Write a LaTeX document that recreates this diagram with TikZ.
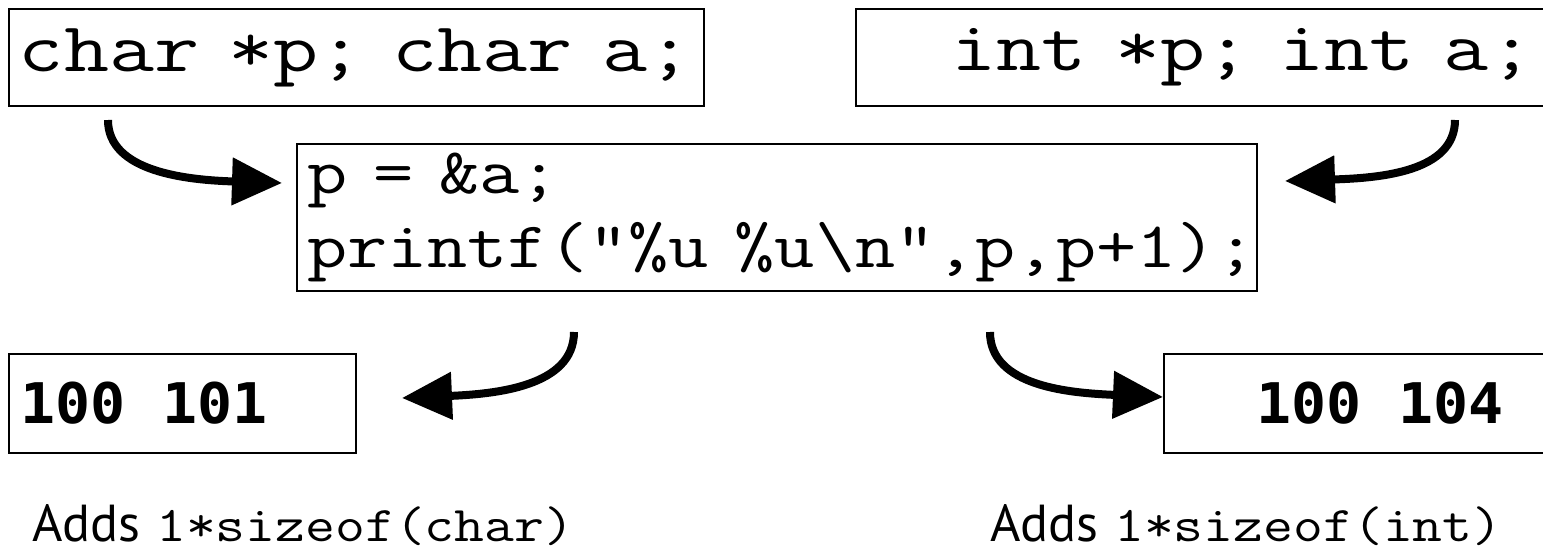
\documentclass[tikz,border=0pt]{standalone}
\usepackage{fontspec}
\usepackage{graphicx}
\usetikzlibrary{arrows.meta,calc}
\newfontfamily\codefont{Latin Modern Mono}
\newfontfamily\numfont{DejaVu Sans Mono}
\newfontfamily\notefont{PT Sans}
% widen a line of monospaced text to Courier-like proportions
\newcommand\stretchx[2][1.2]{\scalebox{#1}[1]{#2}}

\begin{document}
\begin{tikzpicture}[x=1pt,y=-1pt,
  frame/.style={draw, line width=2pt, anchor=north west, inner ysep=0pt, align=left},
  decl/.style={frame, font=\codefont\fontsize{70}{84}\selectfont, minimum height=97pt},
  result/.style={frame, font=\numfont\bfseries\fontsize{56}{67}\selectfont, minimum height=99pt},
  note/.style={anchor=base west, inner sep=0pt, font=\fontsize{52}{60}\selectfont},
  link/.style={line width=8pt, -{Triangle[length=50pt,width=46pt]}},
]
\useasboundingbox (0,0) rectangle (1543,554);

% declarations
\node[decl, inner xsep=10pt, text width=675pt] (chardecl) at (8,8) {\stretchx[1.25]{char *p; char a;}};
\node[decl, inner xsep=95pt, text width=620pt] (intdecl) at (855,8) {\stretchx[1.25]{int *p; int a;}};

% shared code
\node[frame, font=\codefont\fontsize{65}{74}\selectfont, inner xsep=10pt,
      text width=940pt, minimum height=147pt] (code) at (296,143)
  {\stretchx{p = \&a;}\\\stretchx{printf(“\%u \%u\textbackslash n”,p,p+1);}};

% printed output (a full digit cell between the two values)
\node[result, inner xsep=11pt, text width=325pt] (charout) at (8,353) {\stretchx[1.04]{100\hspace{0.3em} 101}};
\node[result, inner xsep=92pt, text width=290pt] (intout) at (1163,353) {\stretchx[1.04]{100\hspace{0.3em} 104}};

% notes
\node[note] (charnote) at (32,541) {{\notefont Adds} {\codefont\fontsize{50}{60}\selectfont\stretchx[1.16]{1*sizeof(char)}}};
\node[note] (intnote) at (990,541) {{\notefont Adds} {\codefont\fontsize{50}{60}\selectfont\stretchx[1.16]{1*sizeof(int)}}};

% connectors
\draw[link] ($(chardecl.south west)+(100,13)$) .. controls +(0,52) and +(-95,-3) .. ($(code.north west)+(-14,40)$);
\draw[link] ($(intdecl.south west)+(600,13)$) .. controls +(0,52) and +(95,-3) .. ($(code.north east)+(27,38)$);
\draw[link] ($(code.south west)+(278,40)$) .. controls +(0,55) and +(92,-4) .. ($(charout.north east)+(45,45)$);
\draw[link] ($(code.south west)+(694,40)$) .. controls +(0,55) and +(-92,-4) .. ($(intout.north west)+(0,44)$);
\end{tikzpicture}
\end{document}
